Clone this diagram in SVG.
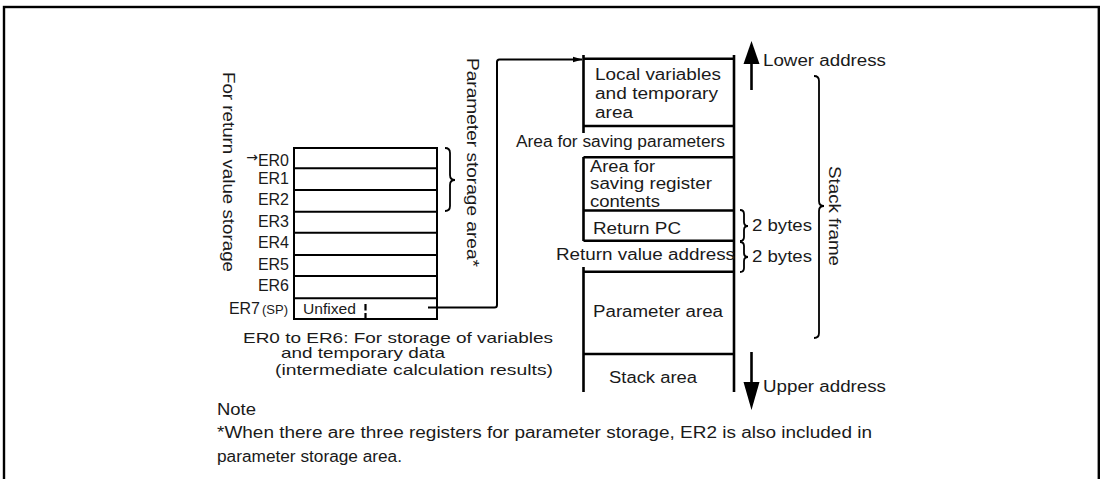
<svg xmlns="http://www.w3.org/2000/svg" width="1102" height="479" viewBox="0 0 1102 479">
<style>
text{font-family:"Liberation Sans",Arial,sans-serif;fill:#1a1a1a;font-size:16px}
.s{font-size:14px}
.n{font-size:15px}
.ln{stroke:#000;stroke-width:2;fill:none}
.bl{stroke:#000;stroke-width:2.6;fill:none}
.br{stroke:#000;stroke-width:1.8;fill:none}
</style>
<defs>
<marker id="ah" viewBox="0 0 10 8" refX="9.5" refY="4" markerWidth="10" markerHeight="8" markerUnits="userSpaceOnUse" orient="auto">
<path d="M0,1 L10,4 L0,7 Z" fill="#000"/>
</marker>
</defs>
<rect x="4" y="7" width="1094.8" height="490" fill="none" stroke="#000" stroke-width="2.4"/>

<g id="registers">
<rect x="294" y="148" width="143" height="171" class="ln"/>
<path class="ln" d="M294 168.3H437M294 190H437M294 211.7H437M294 232.7H437M294 255H437M294 276H437M294 298.3H437"/>
<text x="289" y="166" text-anchor="end"><tspan font-family="'DejaVu Sans',sans-serif" font-size="14" dy="-4">→</tspan><tspan dy="4">ER0</tspan></text>
<text x="289" y="183.5" text-anchor="end">ER1</text>
<text x="289" y="205" text-anchor="end">ER2</text>
<text x="289" y="226.5" text-anchor="end">ER3</text>
<text x="289" y="247.5" text-anchor="end">ER4</text>
<text x="289" y="270" text-anchor="end">ER5</text>
<text x="289" y="291" text-anchor="end">ER6</text>
<text x="288" y="313.5" text-anchor="end">ER7<tspan font-size="13" dx="2">(SP)</tspan></text>
<text class="s" x="303" y="313.5" textLength="53" lengthAdjust="spacingAndGlyphs">Unfixed</text>
<path d="M365.5 304V310.5M365.5 313V319" stroke="#000" stroke-width="2.2"/>
</g>

<g id="param-brace">
<path class="br" d="M445 148Q450 148 450 153V175Q450 180 455 180Q450 180 450 185V206Q450 211 445 211"/>
<text transform="translate(467,58) rotate(90)" textLength="209" lengthAdjust="spacingAndGlyphs">Parameter storage area*</text>
</g>

<g id="return-label">
<text transform="translate(222.5,72) rotate(90)" textLength="200" lengthAdjust="spacingAndGlyphs">For return value storage</text>
</g>

<g id="reg-note">
<text class="n" x="243" y="343.3" textLength="310" lengthAdjust="spacingAndGlyphs">ER0 to ER6:  For storage of variables</text>
<text class="n" x="281" y="357.5" textLength="164" lengthAdjust="spacingAndGlyphs">and temporary data</text>
<text class="n" x="275" y="375" textLength="278" lengthAdjust="spacingAndGlyphs">(intermediate calculation results)</text>
</g>

<g id="stack">
<path class="bl" d="M583.5 55V133M583.5 157V241M583.5 267V392M734 55V392"/>
<path class="bl" d="M583.5 58.8H734M583.5 126H734M583.5 157.3H734M583.5 210.5H734M583.5 240.7H734M583.5 271.7H734M583.5 354H734"/>
<text x="595" y="80" textLength="126" lengthAdjust="spacingAndGlyphs">Local variables</text>
<text x="595" y="99.3" textLength="123" lengthAdjust="spacingAndGlyphs">and temporary</text>
<text x="595" y="118.3" textLength="38" lengthAdjust="spacingAndGlyphs">area</text>
<text x="516" y="147.3" textLength="209" lengthAdjust="spacingAndGlyphs">Area for saving parameters</text>
<text x="590" y="171.7" textLength="65" lengthAdjust="spacingAndGlyphs">Area for</text>
<text x="590" y="189.3" textLength="122" lengthAdjust="spacingAndGlyphs">saving register</text>
<text x="590" y="207.3" textLength="70" lengthAdjust="spacingAndGlyphs">contents</text>
<text x="593" y="234" textLength="88" lengthAdjust="spacingAndGlyphs">Return PC</text>
<text x="556" y="260" textLength="179" lengthAdjust="spacingAndGlyphs">Return value address</text>
<text x="593" y="317.3" textLength="130" lengthAdjust="spacingAndGlyphs">Parameter area</text>
<text x="609" y="383.3" textLength="88" lengthAdjust="spacingAndGlyphs">Stack area</text>
</g>

<g id="bytes">
<path class="br" d="M740 210Q744 210 744 214V222Q744 226 748 226Q744 226 744 230V237Q744 241 740 241"/>
<path class="br" d="M740 242Q744 242 744 246V253Q744 257 748 257Q744 257 744 261V268Q744 272 740 272"/>
<text x="752" y="230.7" textLength="60" lengthAdjust="spacingAndGlyphs">2 bytes</text>
<text x="752" y="261.7" textLength="60" lengthAdjust="spacingAndGlyphs">2 bytes</text>
</g>

<g id="stack-frame">
<path class="br" d="M814 76Q819 76 819 81V201Q819 206 824 206Q819 206 819 211V333Q819 338 814 338"/>
<text transform="translate(828.5,166) rotate(90)" textLength="100" lengthAdjust="spacingAndGlyphs">Stack frame</text>
</g>

<g id="addresses">
<path d="M751.5 62V90" stroke="#000" stroke-width="2.6"/>
<path d="M751.5 41L743.5 64H759.5Z" fill="#000"/>
<text x="763" y="66" textLength="123" lengthAdjust="spacingAndGlyphs">Lower address</text>
<path d="M751.5 352V384" stroke="#000" stroke-width="2.6"/>
<path d="M743.5 382H759.5L751.5 410Z" fill="#000"/>
<text x="763" y="391.7" textLength="123" lengthAdjust="spacingAndGlyphs">Upper address</text>
</g>

<g id="connectors">
<path class="ln" d="M428 307.5H494.5Q497 307.5 497 305V62Q497 59.5 499.5 59.5H582" marker-end="url(#ah)"/>
</g>

<g id="note">
<text x="217" y="415" textLength="39" lengthAdjust="spacingAndGlyphs">Note</text>
<text x="217" y="438" textLength="655" lengthAdjust="spacingAndGlyphs">*When there are three registers for parameter storage, ER2 is also included in</text>
<text x="217" y="462" textLength="185" lengthAdjust="spacingAndGlyphs">parameter storage area.</text>
</g>
</svg>
